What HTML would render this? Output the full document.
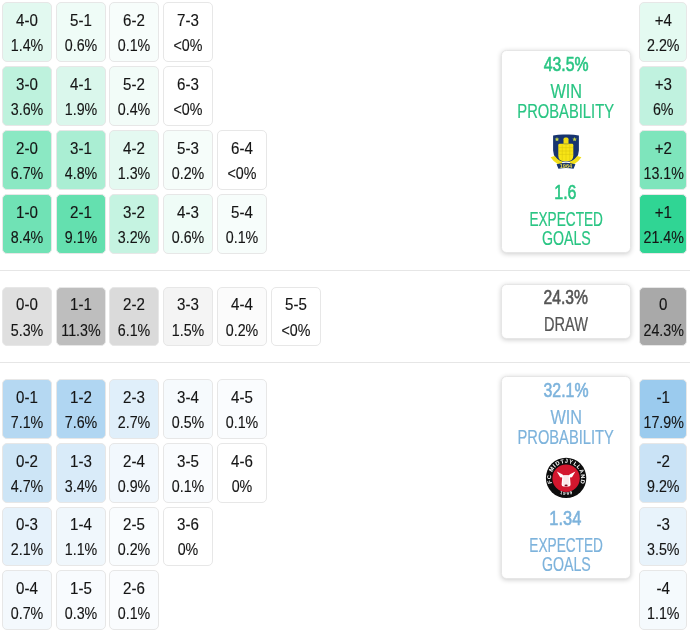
<!DOCTYPE html>
<html lang="en">
<head>
<meta charset="utf-8">
<title>Score probabilities</title>
<style>
html,body{margin:0;padding:0;background:#fff;}
body{width:690px;height:631px;position:relative;overflow:hidden;font-family:"Liberation Sans",sans-serif;color:#151515;}
.c{position:absolute;height:59.6px;box-sizing:border-box;border:1px solid #e7e7e7;border-radius:5px;text-align:center;font-size:16.8px;line-height:25.3px;padding-top:4.5px;white-space:nowrap;}
.c span{display:block;transform-origin:50% 50%;-webkit-text-stroke:.15px #151515;}
.c .a{transform:scaleX(.9);}
.c .b{transform:scaleX(.85);}
.sep{position:absolute;left:0;width:690px;height:1px;background:#e6e6e6;}
.card{position:absolute;left:501px;width:130px;box-sizing:border-box;background:#fff;border:1px solid #e6e6e6;border-radius:5.5px;box-shadow:0 1px 5px rgba(0,0,0,.2);}
.t{position:absolute;left:0;width:100%;text-align:center;font-size:19.8px;line-height:20px;height:20px;white-space:nowrap;}
.t span{display:inline-block;transform-origin:50% 50%;-webkit-text-stroke:.2px currentColor;}
.t.n{font-weight:normal;}
.t.n span{-webkit-text-stroke:.6px currentColor;}
.logo{position:absolute;display:block;}
.g{color:#29c583;}
.bl{color:#7db3dc;}
.gr{color:#555;}
</style>
</head>
<body>
<div class="c" style="left:1.6px;top:2.0px;width:50px;background:#e2f9f0"><span class="a">4-0</span><span class="b">1.4%</span></div>
<div class="c" style="left:55.5px;top:2.0px;width:50px;background:#effcf7"><span class="a">5-1</span><span class="b">0.6%</span></div>
<div class="c" style="left:109.4px;top:2.0px;width:50px;background:#f7fdfb"><span class="a">6-2</span><span class="b">0.1%</span></div>
<div class="c" style="left:163.3px;top:2.0px;width:50px;background:#ffffff"><span class="a">7-3</span><span class="b">&lt;0%</span></div>
<div class="c" style="left:1.6px;top:66.0px;width:50px;background:#bef2dd"><span class="a">3-0</span><span class="b">3.6%</span></div>
<div class="c" style="left:55.5px;top:66.0px;width:50px;background:#daf7ec"><span class="a">4-1</span><span class="b">1.9%</span></div>
<div class="c" style="left:109.4px;top:66.0px;width:50px;background:#f2fcf8"><span class="a">5-2</span><span class="b">0.4%</span></div>
<div class="c" style="left:163.3px;top:66.0px;width:50px;background:#ffffff"><span class="a">6-3</span><span class="b">&lt;0%</span></div>
<div class="c" style="left:1.6px;top:130.0px;width:50px;background:#8be8c3"><span class="a">2-0</span><span class="b">6.7%</span></div>
<div class="c" style="left:55.5px;top:130.0px;width:50px;background:#aaeed3"><span class="a">3-1</span><span class="b">4.8%</span></div>
<div class="c" style="left:109.4px;top:130.0px;width:50px;background:#e4f9f1"><span class="a">4-2</span><span class="b">1.3%</span></div>
<div class="c" style="left:163.3px;top:130.0px;width:50px;background:#f6fdfa"><span class="a">5-3</span><span class="b">0.2%</span></div>
<div class="c" style="left:217.2px;top:130.0px;width:50px;background:#ffffff"><span class="a">6-4</span><span class="b">&lt;0%</span></div>
<div class="c" style="left:1.6px;top:194.0px;width:50px;background:#70e2b5"><span class="a">1-0</span><span class="b">8.4%</span></div>
<div class="c" style="left:55.5px;top:194.0px;width:50px;background:#64e0af"><span class="a">2-1</span><span class="b">9.1%</span></div>
<div class="c" style="left:109.4px;top:194.0px;width:50px;background:#c5f3e1"><span class="a">3-2</span><span class="b">3.2%</span></div>
<div class="c" style="left:163.3px;top:194.0px;width:50px;background:#effcf7"><span class="a">4-3</span><span class="b">0.6%</span></div>
<div class="c" style="left:217.2px;top:194.0px;width:50px;background:#f7fdfb"><span class="a">5-4</span><span class="b">0.1%</span></div>
<div class="c" style="left:1.6px;top:286.8px;width:50px;background:#dfdfdf"><span class="a">0-0</span><span class="b">5.3%</span></div>
<div class="c" style="left:55.5px;top:286.8px;width:50px;background:#bebebe"><span class="a">1-1</span><span class="b">11.3%</span></div>
<div class="c" style="left:109.4px;top:286.8px;width:50px;background:#dadada"><span class="a">2-2</span><span class="b">6.1%</span></div>
<div class="c" style="left:163.3px;top:286.8px;width:50px;background:#f4f4f4"><span class="a">3-3</span><span class="b">1.5%</span></div>
<div class="c" style="left:217.2px;top:286.8px;width:50px;background:#fbfbfb"><span class="a">4-4</span><span class="b">0.2%</span></div>
<div class="c" style="left:271.1px;top:286.8px;width:50px;background:#ffffff"><span class="a">5-5</span><span class="b">&lt;0%</span></div>
<div class="c" style="left:1.6px;top:379.3px;width:50px;background:#b5d8f2"><span class="a">0-1</span><span class="b">7.1%</span></div>
<div class="c" style="left:55.5px;top:379.3px;width:50px;background:#b0d6f2"><span class="a">1-2</span><span class="b">7.6%</span></div>
<div class="c" style="left:109.4px;top:379.3px;width:50px;background:#e0effa"><span class="a">2-3</span><span class="b">2.7%</span></div>
<div class="c" style="left:163.3px;top:379.3px;width:50px;background:#f6fafd"><span class="a">3-4</span><span class="b">0.5%</span></div>
<div class="c" style="left:217.2px;top:379.3px;width:50px;background:#fafcfe"><span class="a">4-5</span><span class="b">0.1%</span></div>
<div class="c" style="left:1.6px;top:443.0px;width:50px;background:#cde5f6"><span class="a">0-2</span><span class="b">4.7%</span></div>
<div class="c" style="left:55.5px;top:443.0px;width:50px;background:#d9ebf9"><span class="a">1-3</span><span class="b">3.4%</span></div>
<div class="c" style="left:109.4px;top:443.0px;width:50px;background:#f2f8fd"><span class="a">2-4</span><span class="b">0.9%</span></div>
<div class="c" style="left:163.3px;top:443.0px;width:50px;background:#fafcfe"><span class="a">3-5</span><span class="b">0.1%</span></div>
<div class="c" style="left:217.2px;top:443.0px;width:50px;background:#ffffff"><span class="a">4-6</span><span class="b">0%</span></div>
<div class="c" style="left:1.6px;top:506.7px;width:50px;background:#e6f2fb"><span class="a">0-3</span><span class="b">2.1%</span></div>
<div class="c" style="left:55.5px;top:506.7px;width:50px;background:#f0f7fc"><span class="a">1-4</span><span class="b">1.1%</span></div>
<div class="c" style="left:109.4px;top:506.7px;width:50px;background:#f9fcfe"><span class="a">2-5</span><span class="b">0.2%</span></div>
<div class="c" style="left:163.3px;top:506.7px;width:50px;background:#ffffff"><span class="a">3-6</span><span class="b">0%</span></div>
<div class="c" style="left:1.6px;top:570.4px;width:50px;background:#f4f9fd"><span class="a">0-4</span><span class="b">0.7%</span></div>
<div class="c" style="left:55.5px;top:570.4px;width:50px;background:#f8fbfe"><span class="a">1-5</span><span class="b">0.3%</span></div>
<div class="c" style="left:109.4px;top:570.4px;width:50px;background:#fafcfe"><span class="a">2-6</span><span class="b">0.1%</span></div>
<div class="c" style="left:638.9px;top:2.0px;width:48.5px;background:#e4faf1"><span class="a">+4</span><span class="b">2.2%</span></div>
<div class="c" style="left:638.9px;top:66.0px;width:48.5px;background:#c0f2df"><span class="a">+3</span><span class="b">6%</span></div>
<div class="c" style="left:638.9px;top:130.0px;width:48.5px;background:#7ee5bc"><span class="a">+2</span><span class="b">13.1%</span></div>
<div class="c" style="left:638.9px;top:194.0px;width:48.5px;background:#30d594"><span class="a">+1</span><span class="b">21.4%</span></div>
<div class="c" style="left:638.9px;top:286.8px;width:48.5px;background:#a9a9a9"><span class="a">0</span><span class="b">24.3%</span></div>
<div class="c" style="left:638.9px;top:379.3px;width:48.5px;background:#9bcbee"><span class="a">-1</span><span class="b">17.9%</span></div>
<div class="c" style="left:638.9px;top:443.0px;width:48.5px;background:#cae3f6"><span class="a">-2</span><span class="b">9.2%</span></div>
<div class="c" style="left:638.9px;top:506.7px;width:48.5px;background:#e8f3fb"><span class="a">-3</span><span class="b">3.5%</span></div>
<div class="c" style="left:638.9px;top:570.4px;width:48.5px;background:#f5fafd"><span class="a">-4</span><span class="b">1.1%</span></div>

<div class="sep" style="top:270px"></div>
<div class="sep" style="top:362px"></div>

<div class="card g" style="top:50.0px;height:203px">
  <div class="t n" style="top:3.20px"><span style="transform:translateX(0.14px) scaleX(0.799)">43.5%</span></div>
  <div class="t" style="top:29.50px"><span style="transform:translateX(0.03px) scaleX(0.823)">WIN</span></div>
  <div class="t" style="top:50.20px"><span style="transform:translateX(-1.21px) scaleX(0.745)">PROBABILITY</span></div>
  <div class="t n" style="top:131.30px"><span style="transform:translateX(-0.35px) scaleX(0.807)">1.6</span></div>
  <div class="t" style="top:158.00px"><span style="transform:translateX(-0.15px) scaleX(0.689)">EXPECTED</span></div>
  <div class="t" style="top:176.50px"><span style="transform:translateX(0.28px) scaleX(0.718)">GOALS</span></div>
</div>
<div class="card gr" style="top:283.5px;height:55px">
  <div class="t n" style="top:2.00px"><span style="transform:translateX(-0.36px) scaleX(0.792)">24.3%</span></div>
  <div class="t" style="top:29.00px"><span style="transform:translateX(0.17px) scaleX(0.737)">DRAW</span></div>
</div>
<div class="card bl" style="top:376.0px;height:203px">
  <div class="t n" style="top:3.20px"><span style="transform:translateX(-0.05px) scaleX(0.802)">32.1%</span></div>
  <div class="t" style="top:29.50px"><span style="transform:translateX(0.05px) scaleX(0.821)">WIN</span></div>
  <div class="t" style="top:50.20px"><span style="transform:translateX(-1.22px) scaleX(0.742)">PROBABILITY</span></div>
  <div class="t n" style="top:130.50px"><span style="transform:translateX(-0.91px) scaleX(0.830)">1.34</span></div>
  <div class="t" style="top:158.00px"><span style="transform:translateX(-0.18px) scaleX(0.690)">EXPECTED</span></div>
  <div class="t" style="top:176.50px"><span style="transform:translateX(0.27px) scaleX(0.718)">GOALS</span></div>
</div>

<svg class="logo" style="left:550px;top:133.5px" width="32" height="36" viewBox="0 0 32 36">
<path d="M3.1 1.6 Q9.5 0.2 16 0.6 Q22.5 0.2 28.9 1.6 L28.9 16.5 Q28.9 25.5 16 31 Q3.1 25.5 3.1 16.5 Z" fill="#17346f"/>
<path d="M0.6 23.2 L4.6 22 Q9 27.6 16 28.6 Q23 27.6 27.4 22 L31.4 23.2 Q26 31.6 16 32 Q6 31.6 0.6 23.2 Z" fill="#f2df1a"/>
<rect x="13.5" y="3.6" width="5" height="8" rx="1.6" fill="#f0dc14"/>
<path d="M9.6 9.8 H22 Q23.3 9.8 23.3 11.2 V21.5 Q23.3 27.2 17.6 27.2 H14 Q8.3 27.2 8.3 21.5 V11.2 Q8.3 9.8 9.6 9.8 Z" fill="#f7e416"/>
<path d="M13.5 9.9H18.5" stroke="#17346f" stroke-width=".5" fill="none" opacity=".7"/>
<path d="M9 13.6H23M9 17H23M9 20.4H23M12.3 10.5V26M16 10.5V27M19.7 10.5V26" stroke="#d9c40f" stroke-width=".5" fill="none"/>
<path d="M7 3 L7.6 4.6 L9.3 4.7 L8 5.7 L8.4 7.3 L7 6.4 L5.6 7.3 L6 5.7 L4.7 4.7 L6.4 4.6 Z" fill="#c9d84a"/>
<path d="M24.6 3 L25.2 4.6 L26.9 4.7 L25.6 5.7 L26 7.3 L24.6 6.4 L23.2 7.3 L23.6 5.7 L22.3 4.7 L24 4.6 Z" fill="#c9d84a"/>
<ellipse cx="16" cy="28.6" rx="4" ry="1" fill="#fff"/>
<path d="M6.6 30.2 Q16 27.2 25.4 30.2 L23.6 34.8 Q16 33.2 8.4 34.8 Z" fill="#17346f"/>
<text x="16" y="33.6" text-anchor="middle" font-family="Liberation Sans, sans-serif" font-weight="bold" font-size="5" fill="#e8d84a" textLength="12.5" lengthAdjust="spacingAndGlyphs">1964</text>
</svg>
<svg class="logo" style="left:545px;top:457px" width="42" height="42" viewBox="0 0 42 42">
<circle cx="21.1" cy="20.9" r="20.2" fill="#0d0d0d"/>
<circle cx="21.1" cy="21.2" r="13.7" fill="#d3172e"/>
<path d="M11.8 14.6 L17.6 17.6 L18.2 18.2 L24 18.2 L24.6 17.6 L30.4 14.6 L27 20.2 L25 20.6 L25.6 27.6 Q25.6 29.4 23.6 29.6 L18.6 29.6 Q16.6 29.4 16.6 27.6 L17.2 20.6 L15.2 20.2 Z" fill="#fff"/>
<path d="M18.6 18.4 L23.6 18.4 L24.4 28.2 L17.8 28.2 Z" fill="#fbe9ea"/>
<ellipse cx="21.1" cy="28.3" rx="1.6" ry=".9" fill="#7a1020"/>
<defs>
<path id="arcTop" d="M7.41 27.02 A15 15 0 1 1 34.79 27.02"/>
<path id="arcBot" d="M11.35 34.9 A17 17 0 0 0 30.85 34.9"/>
</defs>
<text font-family="Liberation Sans, sans-serif" font-weight="bold" font-size="5.7" fill="#fff" textLength="57.5" lengthAdjust="spacing"><textPath href="#arcTop" startOffset="50%" text-anchor="middle" textLength="57.5" lengthAdjust="spacing">FC MIDTJYLLAND</textPath></text>
<text font-family="Liberation Sans, sans-serif" font-weight="bold" font-size="4.3" fill="#fff" textLength="13" lengthAdjust="spacing"><textPath href="#arcBot" startOffset="50%" text-anchor="middle" textLength="13" lengthAdjust="spacing">1999</textPath></text>
</svg>
</body>
</html>
